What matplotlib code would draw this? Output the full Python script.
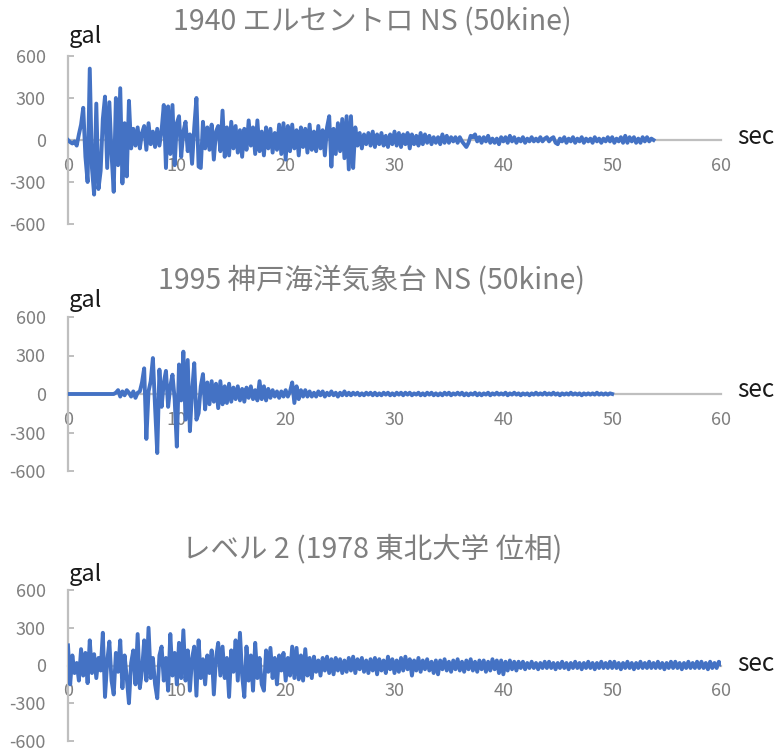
import numpy as np
import matplotlib
matplotlib.use("Agg")
import matplotlib.pyplot as plt

plt.rcParams['font.family'] = ['Noto Sans CJK JP', 'DejaVu Sans']

# ---------------- data (gal), sampled every 0.2 s ----------------
dt = 0.2
titles = ["1940 エルセントロ NS (50kine)",
          "1995 神戸海洋気象台 NS (50kine)",
          "レベル 2 (1978 東北大学 位相)"]

elcentro = [
    0, -15, -25, -10, -40, 40, 110, 230, -120, -300,
    510, -200, -390, 260, -350, -220, 150, 310, -200, 270,
    -100, -370, 300, -180, 370, -310, 120, -260, 280, -60,
    80, -40, 90, -60, 50, 100, -70, 120, -30, 60,
    -50, 80, -40, 70, 250, -200, 240, -100, 250, -180,
    120, 170, -120, 60, 130, -80, 40, -170, 90, 300,
    -190, -200, 130, -60, 90, -70, 110, -140, 60, 100,
    -80, 210, -120, 90, -110, 130, -60, 100, -90, 70,
    -120, 80, -70, 140, -40, 90, -100, 140, -80, 60,
    -110, 90, -60, 80, -90, 50, -70, 110, -100, 120,
    -140, 100, -80, 110, -60, 70, -110, 90, -50, 80,
    -90, 110, -70, 60, -80, 100, -60, 70, -110, 90,
    170, -190, 80, -100, 120, -80, 150, -130, 170, -210,
    170, -200, 90, -40, 50, -60, 40, -30, 50, -40,
    60, -50, 40, -30, 50, -40, 30, -50, 40, -30,
    60, -40, 50, -50, 40, -30, 50, -60, 40, -30,
    30, -40, 50, -30, 40, -20, 30, -30, 20, -20,
    20, -30, 40, -20, 30, -20, 20, -10, 20, -20,
    20, -10, -30, -50, -20, 30, 20, 40, -10, 20,
    -20, 20, -10, 30, -20, 10, -20, 10, -30, 20,
    -10, 20, -20, 30, -10, 20, -20, 10, -10, 20,
    -20, 10, -10, 20, -10, 10, -10, 20, -10, 10,
    20, -10, 10, 20, -20, -30, 10, -10, 20, -20,
    10, -10, 20, -20, 10, -10, 20, -20, 10, -10,
    10, -20, 20, -10, 10, -20, 10, -10, 20, -10,
    20, -20, 10, -10, 20, -20, 30, -20, 20, -10,
    20, -20, 10, -20, 20, -10, 20, -10, 10, 0,
]

kobe = [
    0, 0, 0, 0, 0, 0, 0, 0, 0, 0,
    0, 0, 0, 0, 0, 0, 0, 0, 0, 0,
    0, 0, 10, 30, -20, 20, -10, 30, 10, -20,
    20, -30, 10, 20, 90, 200, -350, 20, 100, 280,
    -100, -460, 190, -100, 90, 180, -100, 60, 150, -40,
    -410, 230, -50, 330, -200, 265, -290, 20, 240, -200,
    -150, 60, 155, -120, 90, -80, 100, -60, 80, -110,
    100, -80, 60, -70, 80, -60, 50, -40, 60, -50,
    40, -60, 50, -30, 60, -40, 30, -50, 100, -40,
    60, -50, 40, -30, 30, -20, 20, -30, 20, -20,
    30, -20, 20, 90, -70, 60, -40, 30, -20, 30,
    -20, 20, -20, 10, -20, 20, -10, 20, -20, 10,
    -10, 20, -10, 10, -20, 10, -10, 20, -10, 10,
    -10, 10, -5, 10, -10, 5, -10, 10, -5, 10,
    -10, 10, -10, 5, -10, 10, -5, 10, -10, 5,
    -10, 10, -5, 10, -10, 10, -5, 10, -10, 5,
    -5, 10, -10, 5, -10, 10, -5, 10, -10, 5,
    -10, 5, -10, 10, -5, 10, -10, 5, -5, 10,
    -5, 10, -10, 5, -10, 5, -5, 10, -10, 5,
    -10, 5, -5, 10, -10, 5, -5, 10, -5, 5,
    -5, 10, -10, 5, -5, 10, -5, 5, -10, 5,
    -5, 5, -10, 5, -5, 10, -5, 5, -5, 10,
    -5, 5, -5, 10, -5, 5, -10, 5, -5, 5,
    -5, 10, -5, 5, -5, 5, -10, 5, -5, 5,
    -5, 5, -5, 10, -5, 5, -5, 5, -5, 5,
    0,
]

level2 = [
    160, -150, 80, -60, 20, -120, 130, -80, 100, -140,
    200, -60, 90, -100, 60, -40, 260, -250, 30, 190,
    -120, -230, 100, -50, 200, -180, 80, -100, -300, 20,
    120, -150, 250, -180, -40, 200, -120, 300, -100, 60,
    -150, -260, 80, 150, -120, 60, -200, 250, -80, 100,
    -150, 180, -100, 280, -120, 120, -200, 60, 150, -240,
    200, -100, 50, -150, 80, -60, 120, -230, 60, 180,
    -80, 150, -100, 60, -250, 120, -50, 200, -120, 260,
    -80, -250, 150, -120, 80, -200, 180, -100, 60, -150,
    -200, 120, -50, 140, -100, 60, -150, 80, -40, 100,
    -120, 60, -80, 150, -100, 140, -110, 80, -120, 130,
    -80, 60, -100, 70, -50, 40, -80, 60, -40, 70,
    -60, 50, -70, 60, -40, 50, -60, 40, -50, 60,
    -40, 70, -60, 50, -30, 60, -50, 40, -60, 50,
    -40, 60, -70, 50, -40, 40, -60, 70, -30, 50,
    -60, 40, -50, 60, -40, 70, -30, 50, -80, 40,
    -40, 60, -50, 40, -30, 50, -40, 30, -60, 40,
    -70, 40, -30, 50, -40, 30, -50, 40, -30, 50,
    -40, 30, -50, 40, -30, 50, -40, 30, -50, 40,
    -30, 40, -50, 30, -40, 50, -30, 40, -60, 40,
    -70, 30, -40, 40, -30, 30, -40, 30, -20, 30,
    -30, 20, -20, 30, -20, 20, -30, 20, -20, 30,
    -20, 30, -20, 20, -30, 20, -20, 30, -20, 20,
    -30, 20, -20, 30, -20, 20, -30, 20, -20, 30,
    -20, 20, -30, 20, -20, 30, -20, 20, -20, 30,
    -20, 30, -20, 20, -30, 20, -20, 30, -20, 20,
    -30, 20, -20, 30, -20, 20, -20, 30, -20, 20,
    -20, 30, -20, 20, -30, 20, -20, 30, -20, 30,
    -20, 20, -30, 20, -20, 30, -20, 20, -20, 30,
    -20, 30, -20, 20, -30, 30, -20, 20, -20, 30,
    10,
]

series = [elcentro, kobe, level2]
yticks = [-600, -300, 0, 300, 600]
xticks = [0, 10, 20, 30, 40, 50, 60]

# ---------------- layout ----------------
W, H = 779, 753
fig = plt.figure(figsize=(W / 100, H / 100), dpi=100)

panels = [(56, 224), (317, 471), (590, 741)]      # pixel rows of +600 / -600
title_y = [22, 280, 549]
gal_y = [37, 301, 575]
sec_y = [137, 390, 664]
x0, x1 = 68, 721

line_color = '#4472C4'
axis_gray = '#BFBFBF'
text_gray = '#7F7F7F'

for i, vals in enumerate(series):
    top, bot = panels[i]
    ax = fig.add_axes([x0 / W, 1 - bot / H, (x1 - x0) / W, (bot - top) / H])
    t = np.arange(len(vals)) * dt
    ax.plot(t, vals, color=line_color, lw=2.8, zorder=3, solid_joinstyle='round')
    ax.set_xlim(0, 60)
    ax.set_ylim(-600, 600)
    ax.patch.set_alpha(0)
    for s in ['top', 'right']:
        ax.spines[s].set_visible(False)
    ax.spines['left'].set_color(axis_gray)
    ax.spines['left'].set_linewidth(1.6)
    ax.spines['bottom'].set_position(('data', 0))
    ax.spines['bottom'].set_color(axis_gray)
    ax.spines['bottom'].set_linewidth(1.6)
    ax.set_yticks(yticks)
    ax.set_yticklabels([str(v) for v in yticks])
    ax.set_xticks(xticks)
    ax.set_xticklabels([str(v) for v in xticks])
    ax.tick_params(axis='y', direction='in', length=4, width=1.4, color=axis_gray,
                   labelcolor=text_gray, labelsize=13, pad=16)
    ax.tick_params(axis='x', length=0, labelcolor=text_gray, labelsize=13, pad=12)

    fig.text(372 / W, 1 - title_y[i] / H, titles[i], ha='center', va='center',
             fontsize=20.5, color=text_gray)
    fig.text(69 / W, 1 - gal_y[i] / H, 'gal', ha='left', va='center',
             fontsize=17, color='#1a1a1a')
    fig.text(737 / W, 1 - sec_y[i] / H, 'sec', ha='left', va='center',
             fontsize=17.5, color='#1a1a1a')

fig.savefig('out.png', dpi=100)
